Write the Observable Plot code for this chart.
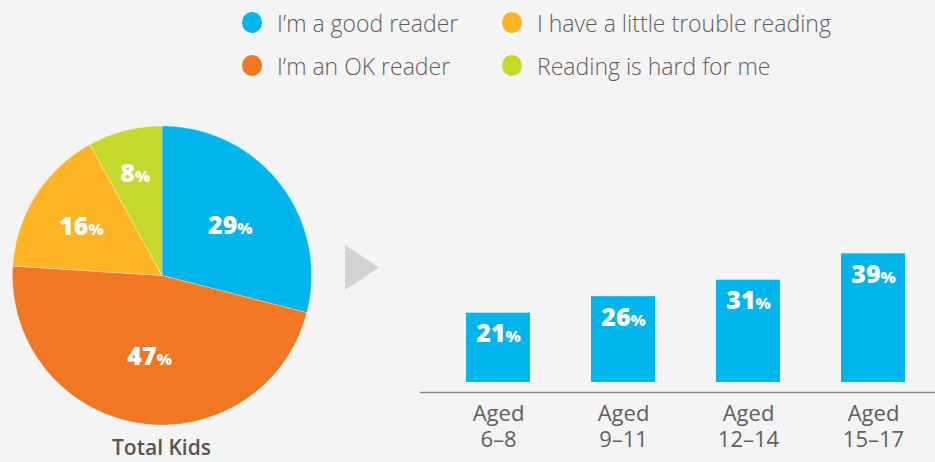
<!DOCTYPE html>
<html><head><meta charset="utf-8">
<script src="https://cdn.jsdelivr.net/npm/d3@7"></script>
<script src="https://cdn.jsdelivr.net/npm/@observablehq/plot@0.6"></script>
<style>
html,body{margin:0;padding:0;background:#f4f4f4;}
#root{position:relative;width:935px;height:462px;overflow:hidden;font-family:"Open Sans",sans-serif;background:#f4f4f4;}
#legend{position:absolute;left:242px;top:1px;display:grid;grid-template-rows:43px 43px;grid-auto-flow:column;grid-template-columns:260px 330px;}
.item{display:flex;align-items:center;font-size:23px;font-weight:300;color:#5f5f5f;white-space:nowrap;}
.dot{width:20px;height:21px;border-radius:50%;margin-right:15px;flex:none;}
#pie{position:absolute;left:0;top:115px;}
#bars{position:absolute;left:420px;top:230px;}
#total{position:absolute;left:0;width:323px;text-align:center;top:437px;font-size:21px;line-height:21px;font-weight:600;color:#555;}
#arrow{position:absolute;left:345px;top:245px;}
</style></head>
<body><div id="root">
<div id="legend"></div>
<div id="pie"></div>
<svg id="arrow" width="35" height="46"><polygon points="0,0 34,22.5 0,45" fill="#d2d2d2"/></svg>
<div id="bars"></div>
<div id="total">Total Kids</div>
</div>
<script>
// ---- data ----
const categories = ["I’m a good reader", "I’m an OK reader", "I have a little trouble reading", "Reading is hard for me"];
const totalShares = [29, 47, 16, 8];
const ageGroups = ["6–8", "9–11", "12–14", "15–17"];
const goodReaderByAge = [21, 26, 31, 39];
const pieTitle = "Total Kids";
// ---- styles ----
const colors = ["#00b5ec", "#f07823", "#fdb526", "#c5d92d"];

// legend
const legend = document.getElementById("legend");
categories.forEach((c, i) => {
  const it = document.createElement("div"); it.className = "item";
  const dot = document.createElement("span"); dot.className = "dot"; dot.style.background = colors[i];
  it.appendChild(dot); it.appendChild(document.createTextNode(c));
  legend.appendChild(it);
});
document.getElementById("total").textContent = pieTitle;

function splitPercent(svg) {
  svg.querySelectorAll('g[aria-label="text"] text').forEach(el => {
    const t = el.textContent;
    if (t.endsWith("%")) {
      el.textContent = t.slice(0, -1);
      const ts = document.createElementNS("http://www.w3.org/2000/svg", "tspan");
      ts.setAttribute("font-size", "16");
      ts.textContent = "%";
      el.appendChild(ts);
    }
  });
  return svg;
}

// pie geometry from data
const arcs = d3.pie().sort(null).value(d => d.value)(categories.map((c, i) => ({cat: c, value: totalShares[i]})));
const slicePts = arcs.flatMap(p => {
  const n = Math.max(2, Math.ceil((p.endAngle - p.startAngle) / 0.01));
  const pts = [{cat: p.data.cat, x: 0, y: 0}];
  for (let k = 0; k <= n; k++) {
    const a = p.startAngle + (p.endAngle - p.startAngle) * k / n;
    pts.push({cat: p.data.cat, x: Math.sin(a), y: Math.cos(a)});
  }
  pts.push({cat: p.data.cat, x: 0, y: 0});
  return pts;
});
const pieLabels = arcs.map(p => {
  const al = p.endAngle - p.startAngle, mid = (p.startAngle + p.endAngle) / 2;
  const r = Math.max(0.53, 4 * Math.sin(al / 2) / (3 * al) + (al < 0.6 ? 0.06 : 0));
  return {x: r * Math.sin(mid), y: r * Math.cos(mid), value: p.data.value};
});

const pie = Plot.plot({
  width: 323, height: 320,
  marginLeft: 12, marginRight: 12, marginTop: 10.5, marginBottom: 10.5,
  x: {domain: [-1, 1], axis: null},
  y: {domain: [-1, 1], axis: null},
  color: {domain: categories, range: colors},
  style: {background: "transparent", fontFamily: "Open Sans", overflow: "visible"},
  marks: [
    Plot.line(slicePts, {x: "x", y: "y", z: "cat", fill: "cat", stroke: "white", strokeWidth: 0.6, strokeOpacity: 0.5}),
    Plot.text(pieLabels, {x: "x", y: "y", dy: 3, text: d => d.value + "%", fill: "white", fontSize: 25, fontWeight: 800})
  ]
});
document.getElementById("pie").appendChild(splitPercent(pie));

const barData = ageGroups.map((a, i) => ({age: a, value: goodReaderByAge[i]}));
const bars = Plot.plot({
  width: 515, height: 232,
  marginLeft: 0, marginRight: 0, marginTop: 20, marginBottom: 80,
  x: {domain: ageGroups, paddingInner: 0.489, paddingOuter: 0.3, align: 0.6, axis: null},
  y: {domain: [0, 40], axis: null},
  style: {background: "transparent", fontFamily: "Open Sans", overflow: "visible"},
  marks: [
    Plot.barY(barData, {x: "age", y: "value", fill: colors[0]}),
    Plot.ruleY([0], {dy: 10, stroke: "#888", strokeWidth: 1.5}),
    Plot.text(barData, {x: "age", y: "value", text: d => d.value + "%", dy: 21, fill: "white", fontSize: 25, fontWeight: 800}),
    Plot.axisX({tickSize: 0, tickPadding: 20, fontSize: 22, fontWeight: "normal", lineHeight: 1.17, color: "#606060", label: null, tickFormat: d => "Aged\n" + d})
  ]
});
document.getElementById("bars").appendChild(splitPercent(bars));
</script>
</body></html>
